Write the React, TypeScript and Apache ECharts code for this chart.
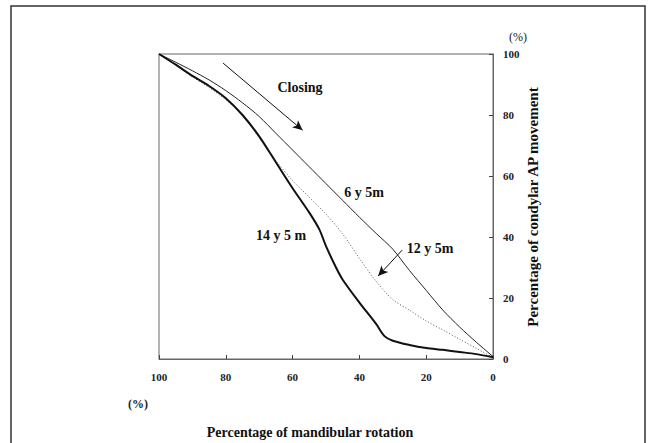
import React, { useEffect, useRef } from "react";
import * as echarts from "echarts";

const xTicks = [0, 20, 40, 60, 80, 100];
const yTicks = [0, 20, 40, 60, 80, 100];

const seriesNames = ["6 y 5m", "12 y 5m", "14 y 5 m"];

const age6y5m: [number, number][] = [
  [100, 100], [95, 97.3], [90, 94.5], [85, 91.5], [80, 88], [75, 84], [70, 79.5],
  [65, 74], [60, 68.5], [55, 63], [50, 57.5], [45, 52], [40, 46.5], [35, 41.2],
  [30, 36], [25, 29], [20, 22.5], [15, 16], [10, 10.5], [5, 5.5], [0, 0.8],
];

const age12y5m: [number, number][] = [
  [100, 100], [95, 96.3], [90, 92.5], [85, 89], [80, 85], [75, 80], [70, 72.5],
  [65, 65], [60, 58.5], [55, 53], [50, 47.5], [45, 41], [40, 33], [35, 25.5],
  [30, 19.5], [25, 16], [20, 12.5], [15, 9.5], [10, 6.5], [5, 3.5], [0, 0.5],
];

const age14y5m: [number, number][] = [
  [100, 100], [95, 96.5], [90, 92.8], [85, 89.5], [80, 85.5], [75, 80], [70, 73],
  [65, 64.5], [60, 56], [55, 48], [52, 42.5], [50, 37], [47, 30], [45, 26],
  [40, 18.5], [35, 11.5], [32.5, 7.5], [30, 6], [25, 4.6], [20, 3.6], [15, 3],
  [10, 2.3], [5, 1.6], [0, 0.6],
];

const closingArrow: [number, number][] = [[80.8, 97], [57, 75]];
const label12Arrow: [number, number][] = [[27.2, 35.7], [34.4, 27.2]];

const FONT = "'Liberation Serif', 'Times New Roman', serif";

export default function App() {
  const ref = useRef<HTMLDivElement>(null);
  useEffect(() => {
    if (!ref.current) return;
    const chart = echarts.init(ref.current, null, { renderer: "svg" });
    const arrowLine = (pts: [number, number][]) => ({
      silent: true,
      symbol: ["none", "arrow"],
      symbolSize: [7, 10],
      label: { show: false },
      lineStyle: { color: "#111", width: 1, type: "solid" },
      data: [[{ coord: pts[0] }, { coord: pts[1] }]],
    });
    chart.setOption({
      animation: false,
      backgroundColor: "#fff",
      grid: {
        left: 159, right: 158, top: 54, bottom: 84,
        show: true, borderColor: "#666", borderWidth: 1,
      },
      xAxis: {
        type: "value", inverse: true, min: 0, max: 100, interval: 20,
        position: "bottom",
        axisLine: { show: true, lineStyle: { color: "#666", width: 1 } },
        axisTick: { show: true, inside: true, length: 4, lineStyle: { color: "#444" } },
        axisLabel: {
          margin: 12, color: "#222", fontFamily: FONT, fontWeight: "bold", fontSize: 11,
          formatter: (v: number) => (xTicks.includes(v) ? String(v) : ""),
        },
        splitLine: { show: false },
      },
      yAxis: {
        type: "value", min: 0, max: 100, interval: 20, position: "right",
        axisLine: { show: true, lineStyle: { color: "#666", width: 1 } },
        axisTick: { show: true, inside: true, length: 4, lineStyle: { color: "#444" } },
        axisLabel: {
          margin: 10, color: "#222", fontFamily: FONT, fontWeight: "bold", fontSize: 11,
          formatter: (v: number) => (yTicks.includes(v) ? String(v) : ""),
        },
        splitLine: { show: false },
      },
      series: [
        {
          name: seriesNames[0], type: "line", data: age6y5m, symbol: "none", smooth: 0.3,
          lineStyle: { color: "#222", width: 1 },
          markLine: arrowLine(closingArrow),
        },
        {
          name: seriesNames[1], type: "line", data: age12y5m, symbol: "none", smooth: 0.3,
          lineStyle: { color: "#555", width: 1, type: [1, 2] },
          markLine: arrowLine(label12Arrow),
        },
        {
          name: seriesNames[2], type: "line", data: age14y5m, symbol: "none", smooth: 0.3,
          lineStyle: { color: "#111", width: 2 },
        },
      ],
      graphic: [
        {
          type: "rect", silent: true,
          shape: { x: 11, y: 6, width: 634, height: 470 },
          style: { fill: "none", stroke: "#333", lineWidth: 1.5 },
        },
        {
          type: "text", x: 518, y: 37,
          style: { text: "(%)", fontFamily: FONT, fontSize: 12, fill: "#222", align: "center", verticalAlign: "middle" },
        },
        {
          type: "text", x: 138, y: 404,
          style: { text: "(%)", fontFamily: FONT, fontSize: 12, fontWeight: "bold", fill: "#222", align: "center", verticalAlign: "middle" },
        },
        {
          type: "text", x: 310, y: 432,
          style: { text: "Percentage of mandibular rotation", fontFamily: FONT, fontSize: 14, fontWeight: "bold", fill: "#111", align: "center", verticalAlign: "middle" },
        },
        {
          type: "text", x: 533, y: 207, rotation: Math.PI / 2,
          style: { text: "Percentage of condylar AP movement", fontFamily: FONT, fontSize: 15, fontWeight: "bold", fill: "#111", align: "center", verticalAlign: "middle" },
        },
        {
          type: "text", x: 300, y: 87,
          style: { text: "Closing", fontFamily: FONT, fontSize: 14, fontWeight: "bold", fill: "#111", align: "center", verticalAlign: "middle" },
        },
        {
          type: "text", x: 364, y: 192,
          style: { text: seriesNames[0], fontFamily: FONT, fontSize: 14, fontWeight: "bold", fill: "#111", align: "center", verticalAlign: "middle" },
        },
        {
          type: "text", x: 430, y: 248,
          style: { text: seriesNames[1], fontFamily: FONT, fontSize: 14, fontWeight: "bold", fill: "#111", align: "center", verticalAlign: "middle" },
        },
        {
          type: "text", x: 281, y: 235,
          style: { text: seriesNames[2], fontFamily: FONT, fontSize: 14, fontWeight: "bold", fill: "#111", align: "center", verticalAlign: "middle" },
        },
      ],
    });
    return () => chart.dispose();
  }, []);
  return (
    <div
      ref={ref}
      style={{ position: "fixed", left: 0, top: 0, width: 651, height: 443, background: "#fff" }}
    />
  );
}
